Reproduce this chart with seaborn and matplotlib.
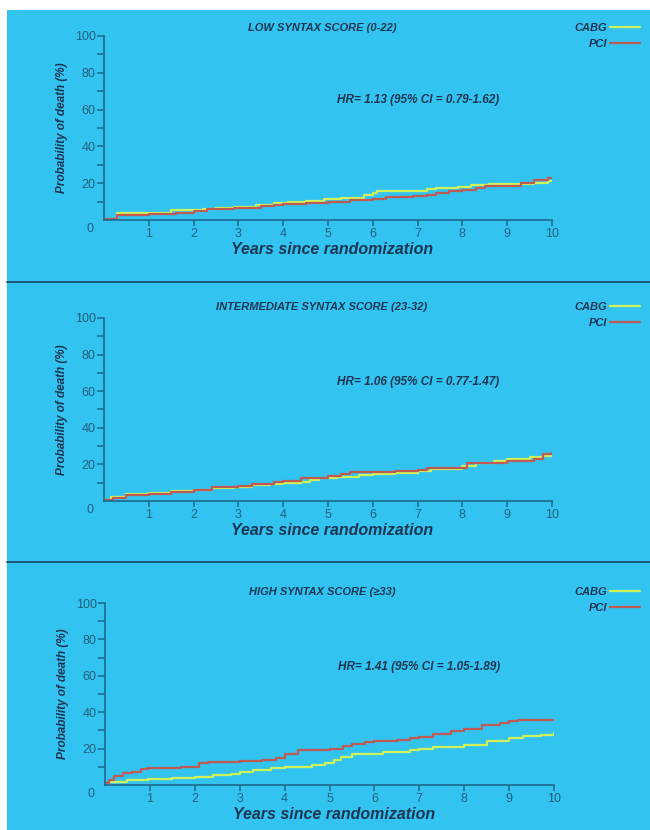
import matplotlib as mpl
import matplotlib.pyplot as plt
import pandas as pd
import seaborn as sns
from matplotlib.lines import Line2D
from matplotlib.patches import Rectangle

sns.set_theme(style="ticks")
mpl.rcParams['font.family'] = ['Liberation Sans Narrow', 'Liberation Sans', 'DejaVu Sans']

# ---- data (years, cumulative % dead), step changes ----
panel_titles = ["LOW SYNTAX SCORE (0-22)",
                "INTERMEDIATE SYNTAX SCORE (23-32)",
                "HIGH SYNTAX SCORE (\u226533)"]
hr_texts = ["HR= 1.13 (95% CI = 0.79-1.62)",
            "HR= 1.06 (95% CI = 0.77-1.47)",
            "HR= 1.41 (95% CI = 1.05-1.89)"]

low_cabg_t = [0, 0.3, 1.5, 2.2, 2.5, 2.9, 3.4, 3.8, 4.1, 4.5, 4.9, 5.3, 5.8, 6.0, 6.1, 6.7, 7.2,
              7.4, 7.9, 8.2, 8.6, 9.0, 9.6, 9.9, 10.0]
low_cabg_y = [0.5, 4.0, 5.5, 5.8, 6.3, 7.0, 8.0, 9.0, 9.8, 10.5, 11.5, 12.0, 13.5, 14.5, 15.5, 16.0,
              16.8, 17.5, 18.0, 18.8, 19.5, 19.6, 20.0, 21.0, 21.0]
low_pci_t = [0, 0.3, 1.0, 1.6, 2.0, 2.3, 2.9, 3.5, 3.8, 4.0, 4.5, 5.0, 5.5, 6.0, 6.3, 6.9, 7.2, 7.4,
             7.7, 8.0, 8.3, 8.5, 9.3, 9.6, 9.9, 10.0]
low_pci_y = [0.5, 2.5, 3.0, 4.0, 5.0, 6.0, 6.5, 7.5, 8.2, 8.8, 9.5, 10.0, 10.8, 11.6, 12.5, 13.0, 13.5,
             14.8, 15.8, 16.2, 17.5, 18.5, 20.0, 21.5, 23.0, 23.0]

mid_cabg_t = [0, 0.15, 0.5, 1.0, 1.5, 2.0, 2.4, 2.9, 3.3, 3.7, 4.0, 4.4, 4.6, 4.8, 5.2, 5.7, 6.0, 6.5,
              7.0, 7.3, 8.0, 8.3, 8.7, 9.0, 9.5, 9.8, 10.0]
mid_cabg_y = [0.5, 2.0, 3.8, 4.5, 5.2, 6.0, 7.0, 7.8, 8.6, 9.2, 9.6, 10.2, 11.5, 12.8, 13.3, 14.0, 14.7,
              15.5, 16.5, 17.5, 19.0, 21.0, 21.8, 22.7, 24.0, 24.8, 25.0]
mid_pci_t = [0, 0.2, 0.5, 1.0, 1.5, 2.0, 2.4, 3.0, 3.3, 3.8, 4.0, 4.4, 5.0, 5.3, 5.5, 6.0, 6.5, 7.0,
             7.2, 7.5, 8.1, 8.6, 9.0, 9.6, 9.8, 10.0]
mid_pci_y = [0.5, 1.5, 3.5, 4.0, 5.0, 6.0, 7.5, 8.3, 9.3, 10.3, 11.2, 12.5, 13.6, 14.8, 15.6, 15.9, 16.5,
             17.0, 18.1, 18.3, 20.5, 21.0, 21.8, 23.2, 25.5, 26.0]

high_cabg_t = [0, 0.1, 0.5, 0.95, 1.5, 2.0, 2.4, 2.8, 3.0, 3.3, 3.7, 4.0, 4.6, 4.9, 5.1, 5.25, 5.5,
               6.2, 6.8, 7.0, 7.3, 8.0, 8.5, 9.0, 9.3, 9.7, 10.0]
high_cabg_y = [1.0, 1.8, 2.5, 3.3, 4.0, 4.6, 5.5, 6.3, 7.0, 8.2, 9.2, 10.0, 11.0, 12.1, 13.5, 15.5, 16.9,
               18.0, 19.2, 19.8, 21.0, 22.0, 24.0, 25.8, 27.0, 27.5, 28.5]
high_pci_t = [0, 0.1, 0.2, 0.4, 0.6, 0.8, 0.95, 1.4, 1.7, 2.1, 2.3, 3.0, 3.5, 3.8, 4.0, 4.3, 5.0, 5.3,
              5.5, 5.8, 6.0, 6.5, 6.8, 7.0, 7.3, 7.7, 8.0, 8.4, 8.8, 9.0, 9.2, 10.0]
high_pci_y = [1.0, 3.0, 5.0, 6.4, 7.0, 8.6, 9.2, 9.5, 10.1, 11.9, 12.8, 13.2, 13.8, 14.8, 17.0, 19.0,
              20.0, 21.5, 22.5, 23.5, 24.3, 24.8, 26.0, 26.5, 28.0, 29.5, 31.0, 33.0, 34.0, 35.3,
              35.8, 35.8]

groups = ["CABG", "PCI"]
curves = [
    ((low_cabg_t, low_cabg_y), (low_pci_t, low_pci_y)),
    ((mid_cabg_t, mid_cabg_y), (mid_pci_t, mid_pci_y)),
    ((high_cabg_t, high_cabg_y), (high_pci_t, high_pci_y)),
]

BG = '#33c3f0'
AXC = '#1d6a8c'
TXT = '#1b3653'
palette = {"CABG": '#cdf25a', "PCI": '#bf5a55'}

W, H = 650, 830
fig = plt.figure(figsize=(W / 100, H / 100), dpi=100, facecolor='white')
fig.add_artist(Rectangle((7 / W, 0), 1 - 7 / W, 1 - 10 / H, transform=fig.transFigure,
                         facecolor=BG, edgecolor='none', zorder=-10))
for yy in (282, 562):
    fig.add_artist(Line2D([7 / W, 1], [1 - yy / H] * 2, transform=fig.transFigure,
                          color='#1a5878', lw=1.4))

# axes boxes in pixels: (left, top, right, bottom)
boxes = [(104, 36, 552, 220), (104, 318, 552, 501), (105, 603, 554, 785)]

for i, (l, t, r, b) in enumerate(boxes):
    ax = fig.add_axes([l / W, 1 - b / H, (r - l) / W, (b - t) / H])
    ax.set_facecolor('none')
    frames = []
    for name, (tt, yy) in zip(groups, curves[i]):
        frames.append(pd.DataFrame({'years': tt, 'prob': yy, 'arm': name}))
    df = pd.concat(frames, ignore_index=True)
    sns.lineplot(data=df, x='years', y='prob', hue='arm', palette=palette, estimator=None,
                 sort=False, drawstyle='steps-post', lw=1.6, ax=ax)

    ax.set_xlim(0, 10)
    ax.set_ylim(0, 100)
    sns.despine(ax=ax)
    for s in ('left', 'bottom'):
        ax.spines[s].set_color(AXC)
        ax.spines[s].set_linewidth(1.2)
    ax.set_xticks(range(1, 11))
    ax.set_yticks([20, 40, 60, 80, 100])
    ax.set_yticks([10, 30, 50, 70, 90], minor=True)
    ax.tick_params(axis='both', which='both', direction='out', color=AXC, width=1.1,
                   labelcolor='#23607e', labelsize=9)
    ax.tick_params(axis='x', length=4, pad=2)
    ax.tick_params(axis='y', which='both', length=5, pad=1)
    ax.annotate('0', xy=(0, 0), xytext=(-14, -9), textcoords='offset pixels',
                ha='center', va='center', fontsize=9, color='#23607e', annotation_clip=False)

    ax.set_xlabel('Years since randomization', fontsize=11.5, fontweight='bold',
                  fontstyle='italic', color=TXT)
    ax.xaxis.set_label_coords(0.51, -0.12)
    ax.set_ylabel('Probability of death (%)', fontsize=8.5, fontweight='bold',
                  fontstyle='italic', color=TXT)
    ax.yaxis.label.set_va('center')
    ax.yaxis.set_label_coords(-0.094, 0.5)

    ax.text(7.0, 65, hr_texts[i], ha='center', va='center', fontsize=8.5,
            fontweight='bold', fontstyle='italic', color=TXT)

    title_y = t - (8 if i == 0 else 11)
    fig.text(322 / W, 1 - title_y / H, panel_titles[i], ha='center', va='center',
             fontsize=8, fontweight='bold', fontstyle='italic', color=TXT)

    handles, labels = ax.get_legend_handles_labels()
    leg = ax.legend(handles, labels, markerfirst=False, frameon=False, loc='upper right',
                    bbox_to_anchor=(646 / W, 1 - (title_y - 11) / H),
                    bbox_transform=fig.transFigure, handlelength=2.7, handletextpad=0.3,
                    labelspacing=0.55, borderpad=0,
                    prop={'size': 8, 'weight': 'bold', 'style': 'italic'})
    for txt in leg.get_texts():
        txt.set_color(TXT)
    for ln in leg.get_lines():
        ln.set_linewidth(1.6)

fig.savefig('out.png', dpi=100, facecolor='white')
